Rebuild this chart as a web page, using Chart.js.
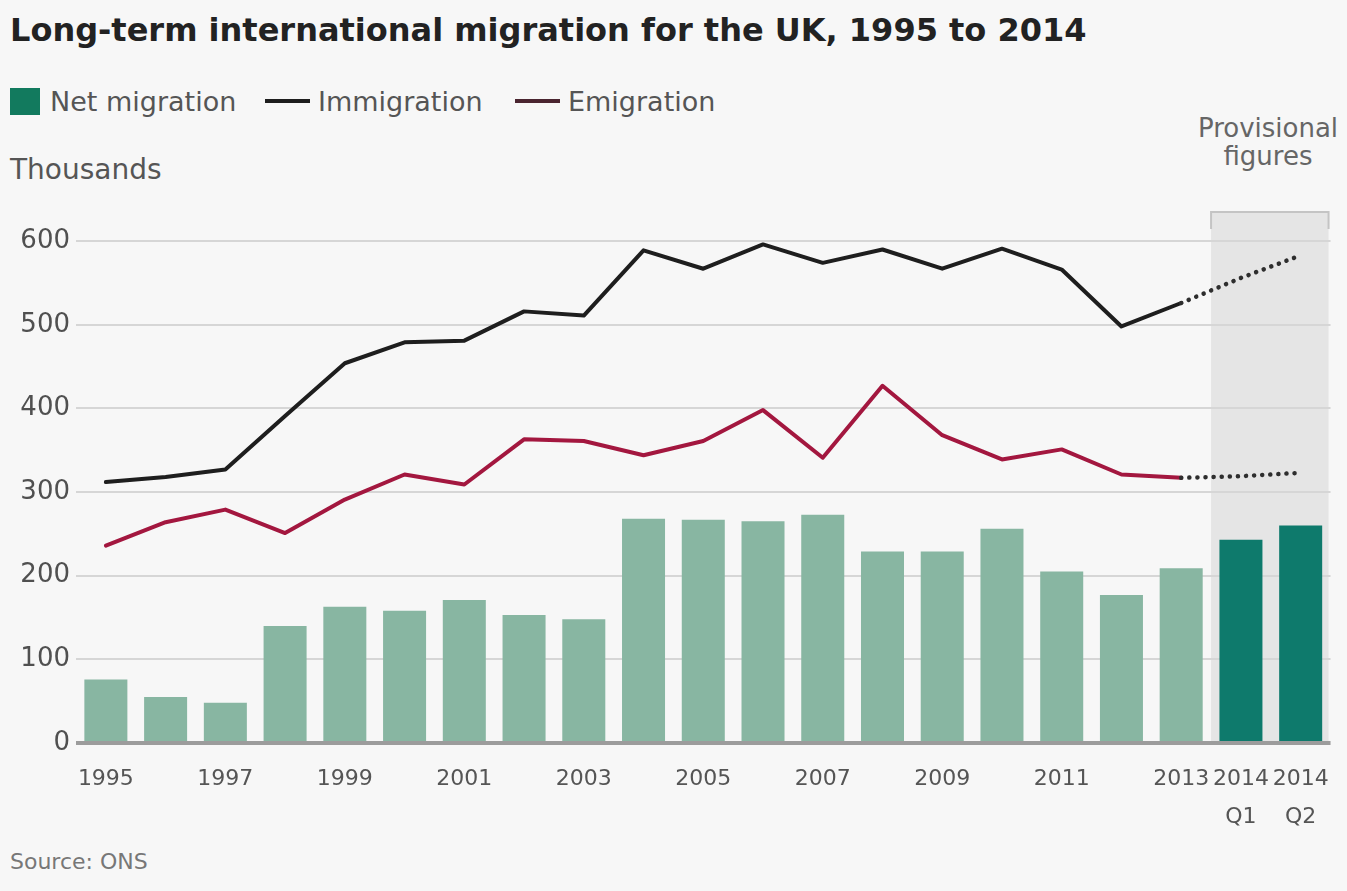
<!DOCTYPE html>
<html>
<head>
<meta charset="utf-8">
<script src="https://cdn.jsdelivr.net/npm/chart.js@4.4.1/dist/chart.umd.min.js"></script>
<style>
  html, body { margin: 0; padding: 0; background: #f7f7f7; }
  body { width: 1347px; height: 891px; position: relative; overflow: hidden; font-family: "DejaVu Sans", sans-serif; }
  #c { position: absolute; left: 0; top: 0; }
  .t { position: absolute; white-space: nowrap; line-height: 1; }
  #title { left: 10px; top: 14px; font-size: 32px; font-weight: bold; color: #222; }
  .leg { top: 88px; font-size: 27px; color: #555; }
  .sw { position: absolute; }
  #thousands { left: 10px; top: 156px; font-size: 28px; color: #555; }
  .prov { font-size: 26px; color: #666; width: 180px; text-align: center; left: 1178px; }
  #source { left: 10px; top: 851px; font-size: 22px; color: #777; }
</style>
</head>
<body>
<div id="title" class="t"></div>
<div id="legend"></div>
<div id="thousands" class="t"></div>
<div id="prov1" class="t prov" style="top:115px"></div>
<div id="prov2" class="t prov" style="top:143px"></div>
<div id="source" class="t"></div>
<canvas id="c" width="1347" height="891"></canvas>
<script>
// ---------- data ----------
const titleText = 'Long-term international migration for the UK, 1995 to 2014';
const unitLabel = 'Thousands';
const sourceText = 'Source: ONS';
const provisionalText = ['Provisional', 'figures'];

const categories = ['1995','1996','1997','1998','1999','2000','2001','2002','2003','2004',
                    '2005','2006','2007','2008','2009','2010','2011','2012','2013','2014 Q1','2014 Q2'];
const xTickLabels = ['1995','','1997','','1999','','2001','','2003','',
                     '2005','','2007','','2009','','2011','','2013',['2014','Q1'],['2014','Q2']];
const netMigration = [76, 55, 48, 140, 163, 158, 171, 153, 148, 268,
                      267, 265, 273, 229, 229, 256, 205, 177, 209, 243, 260];
const immigration  = [312, 318, 327, 391, 454, 479, 481, 516, 511, 589,
                      567, 596, 574, 590, 567, 591, 566, 498, 526, 556, 583];
const emigration   = [236, 264, 279, 251, 291, 321, 309, 363, 361, 344,
                      361, 398, 341, 427, 368, 339, 351, 321, 317, 319, 323];
const yTicks = [0, 100, 200, 300, 400, 500, 600];
const seriesNames = ['Net migration', 'Immigration', 'Emigration'];
const firstProvisional = 19; // index of first provisional category

// ---------- styles ----------
const barColor = '#88b6a2';
const barProvColor = '#0e7a6c';
const legendBarColor = '#127a5e';
const immColor = '#1e1e1e';
const emiColor = '#a3173f';
const emiLegendColor = '#4a2530';
const dotColor = '#2e2e2e';

// ---------- html text ----------
document.getElementById('title').textContent = titleText;
document.getElementById('thousands').textContent = unitLabel;
document.getElementById('source').textContent = sourceText;
document.getElementById('prov1').textContent = provisionalText[0];
document.getElementById('prov2').textContent = provisionalText[1];
const legend = document.getElementById('legend');
const legItems = [
  {name: seriesNames[0], sw: {left:10, top:88, w:30, h:27, c:legendBarColor}, tx: 50},
  {name: seriesNames[1], sw: {left:265, top:99, w:45, h:4, c:immColor}, tx: 318},
  {name: seriesNames[2], sw: {left:515, top:99, w:45, h:4, c:emiLegendColor}, tx: 568}
];
legItems.forEach(it => {
  const s = document.createElement('div');
  s.className = 'sw';
  s.style.cssText = `left:${it.sw.left}px;top:${it.sw.top}px;width:${it.sw.w}px;height:${it.sw.h}px;background:${it.sw.c}`;
  legend.appendChild(s);
  const t = document.createElement('div');
  t.className = 't leg';
  t.style.left = it.tx + 'px';
  t.textContent = it.name;
  legend.appendChild(t);
});

// ---------- plugin: provisional shading ----------
const provisionalShade = {
  id: 'provisionalShade',
  beforeDraw(chart) {
    const {ctx, chartArea} = chart;
    const x = chart.scales.x;
    const x0 = (x.getPixelForValue(firstProvisional - 1) + x.getPixelForValue(firstProvisional)) / 2;
    const x1 = chartArea.right - 2;
    ctx.save();
    ctx.fillStyle = '#e5e5e5';
    ctx.fillRect(x0, chartArea.top, x1 - x0, chartArea.bottom - chartArea.top);
    ctx.strokeStyle = '#c4c4c4';
    ctx.lineWidth = 2;
    ctx.beginPath();
    ctx.moveTo(x0, chartArea.top + 18);
    ctx.lineTo(x0, chartArea.top + 1);
    ctx.lineTo(x1, chartArea.top + 1);
    ctx.lineTo(x1, chartArea.top + 18);
    ctx.stroke();
    ctx.restore();
  }
};

const provSeg = {
  borderDash: c => c.p0DataIndex >= firstProvisional - 1 ? [0.1, 8] : undefined,
  borderColor: c => c.p0DataIndex >= firstProvisional - 1 ? dotColor : undefined,
  borderWidth: c => c.p0DataIndex >= firstProvisional - 1 ? 4.5 : undefined
};

new Chart(document.getElementById('c'), {
  data: {
    labels: categories,
    datasets: [
      {
        type: 'line', label: seriesNames[1], data: immigration, order: 0,
        borderColor: immColor, borderWidth: 4, pointRadius: 0, tension: 0,
        borderCapStyle: 'round', borderJoinStyle: 'round', segment: provSeg
      },
      {
        type: 'line', label: seriesNames[2], data: emigration, order: 0,
        borderColor: emiColor, borderWidth: 4, pointRadius: 0, tension: 0,
        borderCapStyle: 'round', borderJoinStyle: 'round', segment: provSeg
      },
      {
        type: 'bar', label: seriesNames[0], data: netMigration, order: 1,
        backgroundColor: netMigration.map((v, i) => i >= firstProvisional ? barProvColor : barColor),
        barPercentage: 0.72, categoryPercentage: 1.0, borderWidth: 0
      }
    ]
  },
  options: {
    responsive: false,
    animation: false,
    devicePixelRatio: 1,
    layout: { padding: { top: 211, right: 14, bottom: 0, left: 0 } },
    plugins: { legend: { display: false }, tooltip: { enabled: false }, title: { display: false } },
    scales: {
      x: {
        type: 'category',
        offset: true,
        grid: { display: false, drawTicks: false },
        border: { display: false },
        afterFit(s) { s.height = 148; },
        ticks: {
          autoSkip: false, maxRotation: 0, minRotation: 0, padding: 18,
          color: '#555',
          font: { family: 'DejaVu Sans', size: 22, lineHeight: 1.7 },
          callback: (v, i) => xTickLabels[i]
        }
      },
      y: {
        min: 0, max: 636,
        afterBuildTicks(s) { s.ticks = yTicks.map(v => ({ value: v })); },
        afterFit(s) { s.width = 76; },
        grid: {
          drawTicks: false,
          color: c => c.tick && c.tick.value === 0 ? '#9c9c9c' : '#d6d6d6',
          lineWidth: c => c.tick && c.tick.value === 0 ? 4 : 2
        },
        border: { display: false },
        ticks: {
          padding: 6,
          color: '#505050',
          font: { family: 'DejaVu Sans', size: 26 },
          callback: v => String(v)
        }
      }
    }
  },
  plugins: [provisionalShade]
});
</script>
</body>
</html>
